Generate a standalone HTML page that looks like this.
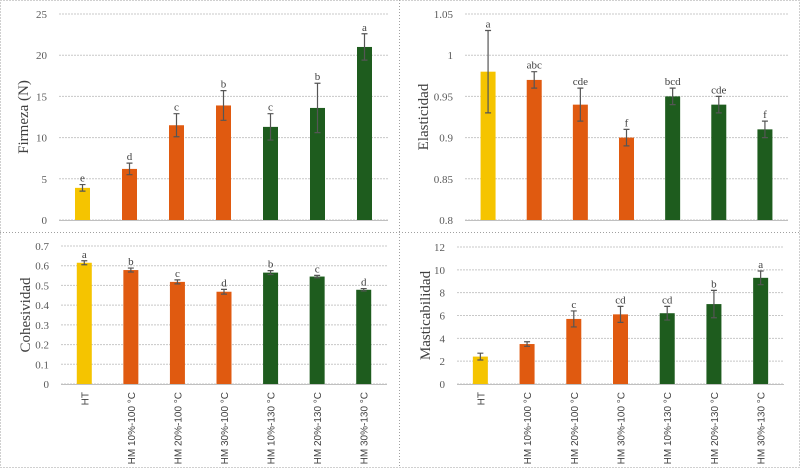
<!DOCTYPE html>
<html><head><meta charset="utf-8"><style>
html,body{margin:0;padding:0;background:#fff;}
svg{display:block;font-family:"Liberation Serif",serif;}
</style></head><body>
<svg id="fig" width="800" height="468" viewBox="0 0 800 468" xmlns="http://www.w3.org/2000/svg">
<rect x="0" y="0" width="800" height="468" fill="#fff"/>
<g id="borders" stroke="#a0a0a0" stroke-width="1" stroke-dasharray="1,2" fill="none">
<rect x="0.5" y="0.5" width="799" height="467"/>
<line x1="0" y1="232.5" x2="800" y2="232.5"/>
<line x1="399.5" y1="0" x2="399.5" y2="468"/>
</g>
</svg>
<script>
const categories = ["HT","HM 10%-100 °C","HM 20%-100 °C","HM 30%-100 °C","HM 10%-130 °C","HM 20%-130 °C","HM 30%-130 °C"];
const firmezaValues = [3.9, 6.2, 11.5, 13.9, 11.3, 13.6, 21.0];
const firmezaErrors = [0.4, 0.7, 1.4, 1.8, 1.6, 3.0, 1.6];
const firmezaLetters = ["e","d","c","b","c","b","a"];
const firmezaTicks = [0, 5, 10, 15, 20, 25];
const elasticidadValues = [0.98, 0.97, 0.94, 0.90, 0.95, 0.94, 0.91];
const elasticidadErrors = [0.05, 0.01, 0.02, 0.01, 0.01, 0.01, 0.01];
const elasticidadLetters = ["a","abc","cde","f","bcd","cde","f"];
const elasticidadTicks = [0.8, 0.85, 0.9, 0.95, 1, 1.05];
const cohesividadValues = [0.615, 0.578, 0.518, 0.468, 0.565, 0.545, 0.478];
const cohesividadErrors = [0.01, 0.01, 0.01, 0.012, 0.01, 0.006, 0.006];
const cohesividadLetters = ["a","b","c","d","b","c","d"];
const cohesividadTicks = [0, 0.1, 0.2, 0.3, 0.4, 0.5, 0.6, 0.7];
const masticabilidadValues = [2.4, 3.5, 5.7, 6.1, 6.2, 7.0, 9.3];
const masticabilidadErrors = [0.3, 0.2, 0.7, 0.7, 0.6, 1.2, 0.6];
const masticabilidadLetters = ["","","c","cd","cd","b","a"];
const masticabilidadTicks = [0, 2, 4, 6, 8, 10, 12];

const colors = ["#f5c400","#e05a10","#e05a10","#e05a10","#1e5c1e","#1e5c1e","#1e5c1e"];
const NS = "http://www.w3.org/2000/svg";
const svg = document.getElementById("fig");
function mk(tag, attrs, parent){ const e=document.createElementNS(NS,tag); for(const k in attrs) e.setAttribute(k,attrs[k]); (parent||svg).appendChild(e); return e; }

function chart(cfg){
  const g = mk("g",{});
  
  
  const tmin = cfg.ticks[0], tmax = cfg.ticks[cfg.ticks.length-1];
  const y = v => cfg.y0 - (v - tmin)/(tmax - tmin)*(cfg.y0 - cfg.y1);
  const step = (cfg.x1 - cfg.x0)/categories.length;
  const x = i => cfg.x0 + step*(i+0.5);
  cfg.ticks.forEach(t=>{
    const ln = mk("line",{x1:cfg.x0,x2:cfg.x1,y1:y(t),y2:y(t),stroke:"#c8c8c8","stroke-width":1,"stroke-dasharray":"2,1"},g);
    
    
    const tx = mk("text",{x:cfg.x0-12,y:y(t)+4,"text-anchor":"end","font-size":11,fill:"#595959"},g);
    tx.textContent = String(t);
    
    
  });
  const ax = mk("line",{x1:cfg.x0,x2:cfg.x1,y1:cfg.y0+0.5,y2:cfg.y0+0.5,stroke:"#c0c0c0","stroke-width":1},g);
  
  
  const ttl = mk("text",{x:0,y:0,"font-size":15,fill:"#404040","text-anchor":"middle",transform:`translate(${cfg.titleX},${(cfg.y0+cfg.y1)/2}) rotate(-90)`},g);
  ttl.textContent = cfg.title;
  
  
  const bw = 15;
  cfg.values.forEach((v,i)=>{
    const cx = x(i);
    const b = mk("rect",{x:cx-bw/2,y:y(v),width:bw,height:cfg.y0-y(v),fill:colors[i]},g);
    
    
    const e = cfg.errors[i], yt=y(v+e), yb=y(v-e);
    const eb = mk("path",{d:`M${cx},${yt}V${yb}M${cx-3},${yt}H${cx+3}M${cx-3},${yb}H${cx+3}`,stroke:"#555","stroke-width":1.2,fill:"none"},g);
    
    
    if(cfg.letters[i]){
      const l = mk("text",{x:cx,y:yt-3,"text-anchor":"middle","font-size":11,fill:"#404040"},g);
      l.textContent = cfg.letters[i];
      
      
    }
    if(cfg.xlabels){
      const xl = mk("text",{x:0,y:0,"text-anchor":"end","font-size":10,"font-family":"Liberation Sans, sans-serif",fill:"#404040",transform:`translate(${cx+4},${cfg.y0+8}) rotate(-90)`},g);
      xl.textContent = categories[i];
      
      
    }
  });
}
chart({name:"firmeza-chart",title:"Firmeza (N)",titleX:28,x0:59,x1:388,y0:220,y1:14,ticks:firmezaTicks,values:firmezaValues,errors:firmezaErrors,letters:firmezaLetters});
chart({name:"elasticidad-chart",title:"Elasticidad",titleX:428,x0:465,x1:788,y0:220,y1:14,ticks:elasticidadTicks,values:elasticidadValues,errors:elasticidadErrors,letters:elasticidadLetters});
chart({name:"cohesividad-chart",title:"Cohesividad",titleX:30,x0:61,x1:387,y0:384,y1:246,ticks:cohesividadTicks,values:cohesividadValues,errors:cohesividadErrors,letters:cohesividadLetters,xlabels:true});
chart({name:"masticabilidad-chart",title:"Masticabilidad",titleX:430,x0:457,x1:784,y0:384,y1:247,ticks:masticabilidadTicks,values:masticabilidadValues,errors:masticabilidadErrors,letters:masticabilidadLetters,xlabels:true});
</script>
</body></html>
